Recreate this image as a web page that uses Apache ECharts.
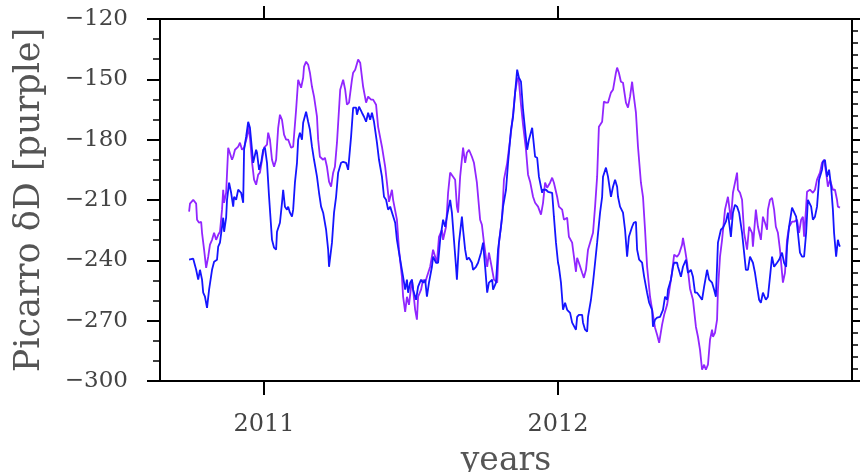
<!DOCTYPE html>
<html>
<head>
<meta charset="utf-8">
<script src="https://cdn.jsdelivr.net/npm/echarts@6/dist/echarts.min.js"></script>
<style>html,body{margin:0;padding:0;background:#fff}#c{width:860px;height:472px}</style>
</head>
<body>
<div id="c"></div>
<script>
// [decimal year, value]
const purple = [
[2010.745,-215.8],[2010.748,-211.8],[2010.759,-209.9],[2010.769,-211.8],[2010.772,-219.8],[2010.779,-221.3],[2010.786,-220.8],[2010.789,-226.3],[2010.796,-234.7],[2010.803,-243.7],
[2010.810,-238.2],[2010.816,-232.2],[2010.823,-229.8],[2010.830,-226.3],[2010.837,-229.8],[2010.844,-227.3],[2010.850,-225.8],[2010.857,-214.8],[2010.861,-204.9],[2010.864,-211.4],
[2010.871,-206.4],[2010.878,-184.0],[2010.884,-183.5],[2010.891,-190.0],[2010.895,-188.5],[2010.901,-185.0],[2010.912,-183.5],[2010.918,-181.5],[2010.925,-185.0],[2010.932,-184.0],
[2010.942,-178.5],[2010.946,-173.6],[2010.952,-179.0],[2010.959,-191.0],[2010.966,-199.9],[2010.973,-202.4],[2010.980,-197.4],[2010.986,-196.4],[2010.993,-190.0],[2011.000,-184.0],
[2011.010,-182.5],[2011.014,-176.5],[2011.020,-180.0],[2011.027,-190.0],[2011.034,-193.5],[2011.041,-190.0],[2011.048,-174.1],[2011.054,-167.6],[2011.061,-170.1],[2011.068,-177.5],
[2011.075,-180.0],[2011.082,-180.0],[2011.092,-184.0],[2011.099,-183.5],[2011.109,-165.1],[2011.116,-150.2],[2011.126,-154.2],[2011.133,-149.2],[2011.136,-143.7],[2011.143,-141.2],
[2011.150,-142.7],[2011.156,-146.7],[2011.163,-153.7],[2011.170,-158.6],[2011.180,-168.6],[2011.184,-180.0],[2011.190,-188.5],[2011.201,-190.0],[2011.207,-189.0],[2011.214,-193.5],
[2011.221,-200.9],[2011.228,-203.4],[2011.235,-196.4],[2011.241,-193.5],[2011.248,-181.5],[2011.259,-155.2],[2011.269,-150.2],[2011.276,-155.2],[2011.282,-162.6],[2011.289,-161.6],
[2011.299,-150.2],[2011.303,-146.7],[2011.310,-145.2],[2011.320,-140.2],[2011.327,-141.7],[2011.337,-153.7],[2011.347,-161.6],[2011.354,-158.6],[2011.364,-160.1],[2011.371,-160.1],
[2011.381,-162.6],[2011.388,-173.6],[2011.401,-183.5],[2011.412,-193.5],[2011.418,-201.4],[2011.425,-210.9],[2011.435,-204.9],[2011.439,-209.9],[2011.452,-219.8],[2011.459,-234.7],
[2011.469,-248.2],[2011.473,-258.1],[2011.480,-265.6],[2011.486,-258.1],[2011.493,-262.1],[2011.503,-249.6],[2011.507,-254.6],[2011.514,-264.6],[2011.520,-269.5],[2011.524,-258.1],
[2011.534,-254.6],[2011.541,-249.6],[2011.548,-251.1],[2011.554,-248.2],[2011.565,-243.2],[2011.575,-234.7],[2011.582,-238.2],[2011.588,-241.2],[2011.595,-228.3],[2011.605,-224.8],
[2011.609,-229.8],[2011.619,-223.3],[2011.626,-206.4],[2011.633,-196.4],[2011.643,-198.4],[2011.650,-199.9],[2011.656,-213.3],[2011.660,-216.3],[2011.667,-198.4],[2011.677,-184.0],
[2011.684,-191.5],[2011.690,-186.5],[2011.697,-185.0],[2011.707,-188.5],[2011.714,-191.5],[2011.724,-201.4],[2011.735,-219.8],[2011.741,-222.3],[2011.748,-231.2],[2011.759,-243.2],
[2011.765,-236.2],[2011.776,-244.7],[2011.782,-249.6],[2011.793,-251.1],[2011.799,-231.2],[2011.810,-218.3],[2011.816,-199.9],[2011.827,-191.5],[2011.837,-180.0],[2011.847,-167.6],
[2011.854,-156.6],[2011.861,-150.2],[2011.864,-149.2],[2011.867,-151.2],[2011.874,-162.6],[2011.881,-172.6],[2011.891,-185.0],[2011.898,-197.4],[2011.905,-200.9],[2011.915,-208.4],
[2011.922,-211.4],[2011.932,-213.3],[2011.942,-217.3],[2011.949,-211.4],[2011.956,-201.4],[2011.963,-203.9],[2011.973,-201.4],[2011.980,-198.9],[2011.986,-201.4],[2011.997,-208.4],
[2012.003,-213.3],[2012.014,-214.8],[2012.020,-219.8],[2012.031,-218.8],[2012.037,-228.3],[2012.048,-231.2],[2012.051,-234.7],[2012.061,-245.7],[2012.065,-238.7],[2012.071,-241.2],
[2012.082,-246.2],[2012.088,-248.7],[2012.095,-244.7],[2012.102,-234.7],[2012.109,-231.2],[2012.119,-226.3],[2012.126,-213.3],[2012.133,-198.4],[2012.139,-173.6],[2012.150,-171.1],
[2012.156,-161.1],[2012.163,-161.6],[2012.170,-161.6],[2012.180,-156.6],[2012.187,-155.2],[2012.197,-146.7],[2012.201,-144.2],[2012.207,-146.7],[2012.214,-151.2],[2012.221,-151.7],
[2012.231,-161.6],[2012.238,-164.1],[2012.245,-158.6],[2012.252,-151.2],[2012.255,-155.2],[2012.265,-166.6],[2012.272,-183.5],[2012.282,-201.4],[2012.289,-208.4],[2012.296,-224.8],
[2012.303,-243.2],[2012.313,-258.1],[2012.323,-267.1],[2012.330,-273.5],[2012.337,-277.0],[2012.344,-281.0],[2012.354,-272.0],[2012.361,-267.1],[2012.371,-262.1],[2012.378,-255.6],
[2012.388,-245.7],[2012.395,-237.2],[2012.405,-238.2],[2012.412,-236.7],[2012.422,-232.2],[2012.425,-228.8],[2012.432,-234.7],[2012.439,-241.2],[2012.449,-254.1],[2012.459,-259.6],
[2012.469,-273.0],[2012.476,-278.0],[2012.483,-284.5],[2012.490,-294.4],[2012.497,-291.9],[2012.503,-294.4],[2012.510,-291.9],[2012.517,-279.5],[2012.524,-274.5],[2012.527,-278.0],
[2012.534,-276.0],[2012.541,-269.5],[2012.544,-254.6],[2012.551,-238.2],[2012.558,-229.8],[2012.568,-214.8],[2012.578,-208.4],[2012.588,-219.8],[2012.595,-206.4],[2012.609,-196.4],
[2012.612,-204.9],[2012.619,-206.4],[2012.626,-209.9],[2012.633,-226.3],[2012.643,-234.7],[2012.650,-223.3],[2012.660,-226.3],[2012.663,-233.2],[2012.673,-214.8],[2012.680,-223.3],
[2012.690,-229.8],[2012.697,-218.3],[2012.704,-221.3],[2012.711,-224.8],[2012.714,-214.8],[2012.721,-209.9],[2012.728,-208.9],[2012.735,-214.8],[2012.741,-223.3],[2012.748,-226.3],
[2012.755,-234.7],[2012.762,-246.2],[2012.765,-251.1],[2012.772,-246.2],[2012.779,-229.8],[2012.786,-223.3],[2012.796,-220.8],[2012.803,-220.8],[2012.813,-219.8],[2012.820,-226.3],
[2012.827,-219.8],[2012.833,-218.3],[2012.837,-228.3],[2012.844,-213.3],[2012.847,-205.9],[2012.857,-204.9],[2012.867,-206.4],[2012.874,-204.9],[2012.881,-199.9],[2012.891,-196.4],
[2012.898,-191.5],[2012.905,-190.0],[2012.912,-196.4],[2012.918,-203.4],[2012.925,-199.9],[2012.935,-204.9],[2012.942,-204.9],[2012.949,-209.9],[2012.952,-213.3],[2012.959,-213.8]
];
const blue = [
[2010.745,-239.7],[2010.759,-239.2],[2010.769,-244.7],[2010.776,-249.6],[2010.782,-244.7],[2010.789,-249.6],[2010.793,-256.1],[2010.799,-258.1],[2010.806,-263.6],[2010.813,-254.6],
[2010.823,-244.7],[2010.830,-240.7],[2010.840,-239.7],[2010.844,-233.2],[2010.850,-231.2],[2010.857,-223.3],[2010.861,-218.8],[2010.864,-225.8],[2010.871,-218.8],[2010.874,-209.9],
[2010.881,-201.4],[2010.888,-206.4],[2010.895,-213.3],[2010.898,-208.4],[2010.905,-209.9],[2010.912,-204.9],[2010.922,-206.4],[2010.929,-211.4],[2010.932,-185.0],[2010.939,-178.5],
[2010.946,-171.1],[2010.952,-174.1],[2010.959,-185.0],[2010.963,-191.5],[2010.973,-185.0],[2010.976,-186.5],[2010.983,-195.0],[2010.990,-191.5],[2010.997,-185.0],[2011.003,-184.0],
[2011.010,-191.5],[2011.017,-208.4],[2011.027,-229.8],[2011.034,-233.7],[2011.041,-234.7],[2011.044,-225.8],[2011.054,-221.3],[2011.061,-211.4],[2011.065,-204.9],[2011.071,-213.3],
[2011.078,-214.8],[2011.082,-213.3],[2011.088,-216.3],[2011.095,-218.3],[2011.099,-214.8],[2011.105,-201.4],[2011.112,-191.5],[2011.116,-180.0],[2011.122,-176.5],[2011.129,-180.0],
[2011.133,-171.6],[2011.143,-166.1],[2011.150,-171.1],[2011.156,-175.1],[2011.163,-183.5],[2011.170,-190.0],[2011.180,-198.4],[2011.187,-206.4],[2011.194,-213.3],[2011.201,-216.3],
[2011.211,-224.8],[2011.218,-234.7],[2011.221,-243.2],[2011.231,-231.2],[2011.238,-216.3],[2011.245,-208.4],[2011.252,-196.4],[2011.262,-191.5],[2011.269,-191.0],[2011.279,-191.5],
[2011.286,-195.0],[2011.296,-178.5],[2011.303,-164.1],[2011.313,-164.1],[2011.316,-167.6],[2011.323,-163.6],[2011.333,-166.6],[2011.340,-168.6],[2011.347,-171.1],[2011.354,-166.6],
[2011.361,-170.1],[2011.367,-166.6],[2011.374,-171.1],[2011.384,-181.5],[2011.391,-190.0],[2011.401,-198.4],[2011.408,-208.4],[2011.415,-209.9],[2011.422,-214.8],[2011.429,-213.3],
[2011.435,-213.3],[2011.446,-221.3],[2011.452,-229.8],[2011.463,-239.7],[2011.473,-248.2],[2011.480,-254.6],[2011.486,-249.6],[2011.490,-256.1],[2011.497,-251.1],[2011.503,-249.6],
[2011.507,-254.6],[2011.517,-259.6],[2011.524,-253.1],[2011.534,-249.6],[2011.541,-251.1],[2011.548,-249.6],[2011.554,-258.1],[2011.561,-251.1],[2011.571,-243.2],[2011.575,-238.2],
[2011.585,-241.2],[2011.592,-241.2],[2011.599,-229.8],[2011.609,-219.8],[2011.616,-223.3],[2011.622,-218.3],[2011.633,-209.9],[2011.639,-216.3],[2011.646,-229.8],[2011.653,-243.2],
[2011.656,-249.6],[2011.663,-231.2],[2011.673,-218.3],[2011.677,-224.8],[2011.684,-234.7],[2011.690,-239.7],[2011.697,-238.7],[2011.707,-241.2],[2011.711,-244.7],[2011.721,-243.2],
[2011.728,-241.2],[2011.738,-236.2],[2011.745,-231.2],[2011.752,-243.2],[2011.759,-256.1],[2011.765,-251.1],[2011.776,-249.6],[2011.779,-254.6],[2011.789,-251.1],[2011.796,-234.7],
[2011.806,-223.3],[2011.813,-213.3],[2011.823,-204.9],[2011.830,-191.5],[2011.840,-175.1],[2011.847,-168.6],[2011.854,-156.6],[2011.861,-145.2],[2011.867,-149.2],[2011.874,-151.2],
[2011.881,-165.1],[2011.888,-175.1],[2011.895,-185.0],[2011.901,-180.0],[2011.912,-174.1],[2011.915,-178.5],[2011.922,-188.5],[2011.929,-189.0],[2011.935,-198.4],[2011.946,-206.4],
[2011.949,-204.9],[2011.959,-204.9],[2011.966,-205.9],[2011.980,-206.4],[2011.986,-218.3],[2011.993,-231.2],[2012.000,-241.2],[2012.003,-243.2],[2012.010,-251.1],[2012.017,-264.6],
[2012.024,-261.1],[2012.031,-264.6],[2012.041,-266.1],[2012.048,-271.0],[2012.054,-271.0],[2012.061,-274.5],[2012.065,-268.1],[2012.071,-267.1],[2012.082,-267.1],[2012.085,-271.0],
[2012.092,-274.5],[2012.099,-275.5],[2012.102,-268.1],[2012.112,-259.6],[2012.119,-251.1],[2012.126,-241.2],[2012.133,-231.2],[2012.143,-216.3],[2012.150,-208.4],[2012.153,-198.4],
[2012.163,-193.9],[2012.170,-198.4],[2012.180,-208.4],[2012.187,-203.4],[2012.194,-199.9],[2012.201,-203.4],[2012.204,-208.4],[2012.211,-213.3],[2012.221,-216.3],[2012.228,-224.8],
[2012.235,-238.2],[2012.241,-228.3],[2012.252,-223.3],[2012.258,-221.3],[2012.265,-220.8],[2012.269,-234.7],[2012.276,-239.7],[2012.286,-241.2],[2012.293,-248.2],[2012.303,-256.1],
[2012.310,-261.1],[2012.320,-264.6],[2012.323,-273.0],[2012.330,-269.5],[2012.337,-268.5],[2012.347,-268.1],[2012.357,-264.6],[2012.364,-258.1],[2012.371,-259.6],[2012.374,-254.6],
[2012.384,-249.6],[2012.391,-243.2],[2012.395,-241.2],[2012.405,-241.2],[2012.408,-243.2],[2012.418,-248.2],[2012.425,-243.2],[2012.435,-239.7],[2012.442,-246.2],[2012.452,-244.7],
[2012.459,-248.2],[2012.466,-256.1],[2012.473,-256.1],[2012.483,-258.1],[2012.490,-259.6],[2012.497,-253.1],[2012.507,-244.7],[2012.514,-249.6],[2012.524,-251.1],[2012.531,-254.6],
[2012.537,-258.1],[2012.544,-231.2],[2012.554,-224.8],[2012.561,-223.8],[2012.571,-220.8],[2012.578,-216.3],[2012.588,-228.3],[2012.595,-216.3],[2012.602,-212.4],[2012.609,-213.3],
[2012.616,-216.3],[2012.626,-226.3],[2012.633,-236.2],[2012.639,-244.7],[2012.646,-244.7],[2012.653,-238.2],[2012.663,-241.2],[2012.670,-246.2],[2012.677,-253.1],[2012.684,-259.6],
[2012.690,-261.1],[2012.697,-256.1],[2012.707,-259.6],[2012.714,-258.1],[2012.721,-248.2],[2012.728,-238.2],[2012.735,-243.2],[2012.745,-241.2],[2012.752,-239.7],[2012.762,-236.2],
[2012.769,-241.2],[2012.776,-243.2],[2012.779,-233.2],[2012.786,-223.3],[2012.796,-213.8],[2012.799,-213.3],[2012.810,-218.3],[2012.816,-226.3],[2012.823,-236.2],[2012.830,-238.2],
[2012.837,-238.2],[2012.844,-226.3],[2012.850,-209.9],[2012.861,-213.3],[2012.867,-219.8],[2012.874,-218.3],[2012.881,-213.3],[2012.888,-199.9],[2012.898,-194.9],[2012.901,-191.0],
[2012.908,-190.0],[2012.915,-198.4],[2012.922,-194.9],[2012.929,-203.4],[2012.935,-214.8],[2012.939,-226.3],[2012.946,-238.2],[2012.952,-229.8],[2012.956,-232.2],[2012.959,-233.2]
];
const yearTicks = [2011, 2012];
const xRange = [2010.646, 2013.0];
const yRange = [-300, -120];
const yStep = 30;
const yTitle = 'Picarro \u03b4D [purple]';
const xTitle = 'years';

const font = 'DejaVu Serif';
const axisLineStyle = {color: '#000', width: 2};
const chart = echarts.init(document.getElementById('c'), null, {renderer: 'canvas'});
chart.setOption({
  animation: false,
  backgroundColor: '#fff',
  grid: {left: 160, right: 8, top: 19, bottom: 91, containLabel: false, outerBoundsMode: 'none'},
  xAxis: [{
    type: 'value', position: 'bottom', min: xRange[0], max: xRange[1],
    axisLine: {show: true, lineStyle: axisLineStyle},
    axisTick: {show: true, customValues: yearTicks, length: 14, lineStyle: {color: '#000', width: 2}},
    axisLabel: {show: true, customValues: yearTicks, margin: 32, fontFamily: font, fontSize: 24, color: '#444',
      formatter: v => String(Math.round(v))},
    splitLine: {show: false},
    name: xTitle, nameLocation: 'middle', nameGap: 64,
    nameTextStyle: {fontFamily: font, fontSize: 33, color: '#555'}
  }, {
    type: 'value', position: 'top', min: xRange[0], max: xRange[1],
    axisLine: {show: true, lineStyle: axisLineStyle},
    axisTick: {show: true, customValues: yearTicks, length: 13, lineStyle: {color: '#000', width: 2}},
    axisLabel: {show: false},
    splitLine: {show: false}
  }],
  yAxis: [{
    type: 'value', position: 'left', min: yRange[0], max: yRange[1], interval: yStep,
    axisLine: {show: true, lineStyle: axisLineStyle},
    axisTick: {show: true, length: 13, lineStyle: {color: '#000', width: 2}},
    minorTick: {show: true, splitNumber: 3, length: 7, lineStyle: {color: '#000', width: 1.5}},
    axisLabel: {margin: 32, fontFamily: font, fontSize: 23, color: '#444',
      formatter: v => String(v).replace('-', '\u2212')},
    splitLine: {show: false}, minorSplitLine: {show: false},
    name: yTitle, nameLocation: 'middle', nameGap: 113, nameRotate: 90,
    nameTextStyle: {fontFamily: font, fontSize: 35, color: '#555'}
  }, {
    type: 'value', position: 'right', min: yRange[0], max: yRange[1], interval: yStep,
    axisLine: {show: true, lineStyle: axisLineStyle},
    axisTick: {show: true, length: 9, lineStyle: {color: '#000', width: 2}},
    minorTick: {show: true, splitNumber: 5, length: 6, lineStyle: {color: '#000', width: 1.5}},
    axisLabel: {show: false},
    splitLine: {show: false}, minorSplitLine: {show: false}
  }],
  series: [{
    type: 'line', data: purple, xAxisIndex: 0, yAxisIndex: 0, showSymbol: false, symbol: 'none',
    lineStyle: {color: '#9126ff', width: 1.8}, z: 2
  }, {
    type: 'line', data: blue, xAxisIndex: 0, yAxisIndex: 0, showSymbol: false, symbol: 'none',
    lineStyle: {color: '#1515ff', width: 1.8}, z: 3
  }]
});
</script>
</body>
</html>
